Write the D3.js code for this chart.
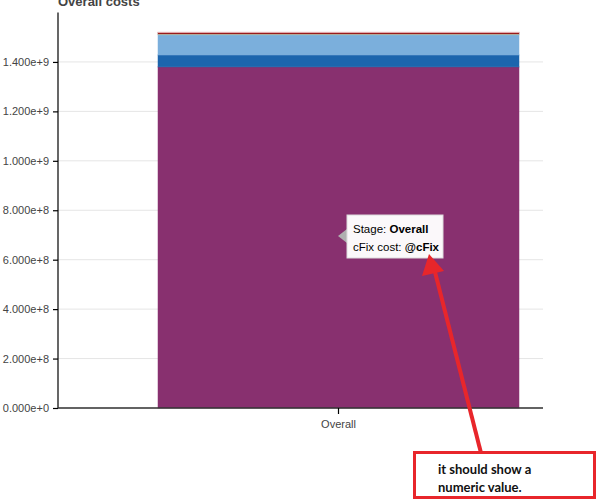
<!DOCTYPE html>
<html>
<head>
<meta charset="UTF-8">
<title>Overall costs</title>
<style>
    body { margin: 0; padding: 0; background: #fff; }
    svg { display: block; font-family: 'Liberation Sans', Arial, sans-serif; }
    .tick text { fill: #444; font-size: 11px; }
    .grid line { stroke: #e5e5e5; }
    .note { font-family: Lato, 'Open Sans', sans-serif; font-weight: bold; font-size: 13px; fill: #111; }
</style>
</head>
<body>
<svg></svg>
<script src="https://d3js.org/d3.v7.min.js"></script>
<script>

// data
let stages = ["Overall"];
let costKeys = ["cFix", "cVar", "cInv", "cFuel", "cCO2", "cOther"];
let costValues = [1.380e9, 0.048e9, 0.082e9, 0.003e9, 0.006e9, 0.002e9];
let costColors = ["#88306f", "#1c65ad", "#7bafdc", "#b6e0c4", "#9a1c1c", "#f2c6c6"];
let yTicks = [0, 2e8, 4e8, 6e8, 8e8, 1e9, 1.2e9, 1.4e9];

// dimensions
let w = 598, h = 500;
let pLeft = 58, pRight = 543, pTop = 12.5, pBottom = 408;

let svg = d3.select("svg").attr("width", w).attr("height", h);

let row = {stage: "Overall"};
costKeys.forEach((k, i) => row[k] = costValues[i]);
let series = d3.stack().keys(costKeys)([row]);

let x = d3.scaleBand().domain(stages).range([158, 519]);
let y = d3.scaleLinear().domain([0, 1.6e9]).range([pBottom, pTop]);

// title (cut at the top edge, as in the screenshot)
svg.append("text")
    .attr("x", pLeft).attr("y", 6)
    .attr("font-size", "13px").attr("font-weight", "bold").attr("fill", "#444")
    .text("Overall costs");

// grid
svg.append("g").attr("class", "grid")
    .selectAll("line").data(yTicks).enter().append("line")
    .attr("x1", pLeft).attr("x2", pRight)
    .attr("y1", d => y(d)).attr("y2", d => y(d));

// bars
svg.append("g").selectAll("rect").data(series).enter().append("rect")
    .attr("x", x("Overall"))
    .attr("width", x.bandwidth())
    .attr("y", d => y(d[0][1]))
    .attr("height", d => y(d[0][0]) - y(d[0][1]))
    .attr("fill", (d, i) => costColors[i])
    .attr("stroke", (d, i) => costColors[i])
    .attr("stroke-opacity", 0.5)
    .attr("stroke-width", 1);

// axes
let yAxis = svg.append("g").attr("transform", `translate(${pLeft},0)`)
    .call(d3.axisLeft(y).tickValues(yTicks).tickFormat(d3.format(".3e")).tickSizeOuter(0).tickSize(5).tickPadding(4));
yAxis.select(".domain").attr("d", `M0,${pTop}V${pBottom}`).attr("stroke", "#000").attr("stroke-width", 1.2);
yAxis.selectAll(".tick line").attr("stroke", "#000").attr("stroke-width", 1.2);

let xAxis = svg.append("g").attr("transform", `translate(0,${pBottom})`)
    .call(d3.axisBottom(x).tickSize(6).tickPadding(6).tickSizeOuter(0));
xAxis.select(".domain").attr("d", `M${pLeft},0H${pRight}`).attr("stroke", "#333").attr("stroke-width", 1.5);
xAxis.selectAll(".tick line").attr("stroke", "#000").attr("stroke-width", 1.2);

// tooltip
let tip = svg.append("g").attr("transform", "translate(347,215)");
tip.append("path").attr("d", "M0,14L-9,21L0,28Z").attr("fill", "#b0b0b0");
tip.append("rect").attr("width", 96).attr("height", 43)
    .attr("fill", "#fff").attr("stroke", "#e0e0e0").attr("opacity", 0.97);
let t1 = tip.append("text").attr("x", 6).attr("y", 18).attr("font-size", "11.5px").attr("fill", "#000");
t1.append("tspan").text("Stage: ");
t1.append("tspan").attr("font-weight", "bold").text("Overall");
let t2 = tip.append("text").attr("x", 6).attr("y", 36).attr("font-size", "11.5px").attr("fill", "#000");
t2.append("tspan").text("cFix cost: ");
t2.append("tspan").attr("font-weight", "bold").text("@cFix");

// annotation
svg.append("line")
    .attr("x1", 481).attr("y1", 453).attr("x2", 435).attr("y2", 272)
    .attr("stroke", "#e8262b").attr("stroke-width", 4);
svg.append("path").attr("d", "M429,254L422,276L444,271Z").attr("fill", "#e8262b");
svg.append("rect")
    .attr("x", 414.5).attr("y", 452.5).attr("width", 180).attr("height", 45)
    .attr("fill", "#fff").attr("stroke", "#e8262b").attr("stroke-width", 3);
svg.append("text").attr("class", "note").attr("x", 438).attr("y", 474).text("it should show a");
svg.append("text").attr("class", "note").attr("x", 438).attr("y", 492).text("numeric value.");

</script>
</body>
</html>
